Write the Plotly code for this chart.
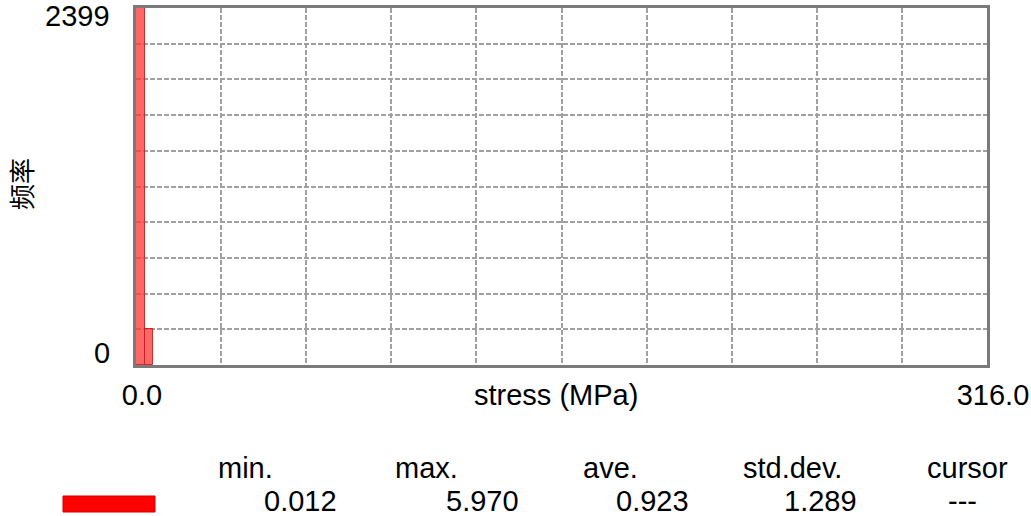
import plotly.graph_objects as go

# histogram of stress values (MPa)
bin_width = 3.16
bin_starts = [0.0, 3.16]
counts = [2399, 242]

x_range = [0.0, 316.0]
y_range = [0, 2399]
x_tick_text = ["0.0", "316.0"]
y_tick_text = ["2399", "0"]

stat_names = ["min.", "max.", "ave.", "std.dev.", "cursor"]
stat_values = ["0.012", "5.970", "0.923", "1.289", "---"]

_FONT = "Liberation Sans, Arial, sans-serif"
_CJK = "Noto Sans CJK SC, sans-serif"

W, H = 1031, 516
L, R, T, B = 136, 44, 8, 151
PW, PH = W - L - R, H - T - B


def px(x):
    return (x - L) / PW


def py(y):
    return (H - B - y) / PH


n_div = 10
x_grid = [x_range[0] + i * (x_range[1] - x_range[0]) / n_div for i in range(n_div + 1)]
y_grid = [y_range[0] + i * (y_range[1] - y_range[0]) / n_div for i in range(n_div + 1)]
x_text = [x_tick_text[0]] + [""] * (n_div - 1) + [x_tick_text[1]]

fig = go.Figure()
fig.add_trace(
    go.Bar(
        x=[s + bin_width / 2 for s in bin_starts],
        y=counts,
        width=[bin_width] * len(counts),
        marker={"color": "rgba(255,60,60,0.78)", "line": {"color": "rgba(200,30,30,0.9)", "width": 1}},
        showlegend=False,
    )
)

axis_common = {
    "showgrid": True,
    "gridcolor": "#a0a0a0",
    "gridwidth": 1.8,
    "griddash": "5px,2px",
    "zeroline": False,
    "showline": True,
    "linecolor": "#7a7a7a",
    "linewidth": 2.5,
    "mirror": True,
    "ticks": "",
    "fixedrange": True,
}

fig.update_xaxes(
    range=x_range,
    tickmode="array",
    tickvals=x_grid,
    ticktext=x_text,
    tickfont={"family": _FONT, "size": 29, "color": "#000"},
    ticklabelstandoff=2,
    ticklabelshift=6,
    **axis_common,
)
fig.update_yaxes(
    range=y_range,
    tickmode="array",
    tickvals=y_grid,
    showticklabels=False,
    **axis_common,
)

annotations = [
    # y tick labels
    {"x": px(112), "y": py(16), "text": y_tick_text[0], "xanchor": "right", "yanchor": "middle"},
    {"x": px(112), "y": py(353), "text": y_tick_text[1], "xanchor": "right", "yanchor": "middle"},
    # x title on the tick label line
    {"x": px(556), "y": py(395), "text": "stress (MPa)", "xanchor": "center", "yanchor": "middle"},
]
name_x = [245, 426, 610, 792, 967]
value_x = [300, 482, 652, 820, 962]
for name, cx in zip(stat_names, name_x):
    annotations.append({"x": px(cx), "y": py(468), "text": name, "xanchor": "center", "yanchor": "middle"})
for val, cx in zip(stat_values, value_x):
    annotations.append({"x": px(cx), "y": py(501), "text": val, "xanchor": "center", "yanchor": "middle"})
for a in annotations:
    a.update({"xref": "paper", "yref": "paper", "showarrow": False,
              "font": {"family": _FONT, "size": 29, "color": "#000"}})
annotations.append({
    "x": px(20), "y": py(184), "xref": "paper", "yref": "paper", "showarrow": False,
    "text": "频率", "textangle": -90, "xanchor": "center", "yanchor": "middle",
    "font": {"family": _CJK, "size": 26, "color": "#000"},
})

fig.update_layout(
    width=W,
    height=H,
    margin={"l": L, "r": R, "t": T, "b": B, "autoexpand": False},
    paper_bgcolor="white",
    plot_bgcolor="white",
    bargap=0,
    annotations=annotations,
    shapes=[{
        "type": "rect", "xref": "paper", "yref": "paper",
        "x0": px(63), "x1": px(155), "y0": py(512), "y1": py(496),
        "fillcolor": "#ff0000", "line": {"color": "#d00000", "width": 1},
    }],
)

# the page body has a default margin; drop it so the figure sits at the window origin
fig.write_html(
    "out.html",
    config={"displayModeBar": False},
    post_script="document.body.style.margin='0';",
)
